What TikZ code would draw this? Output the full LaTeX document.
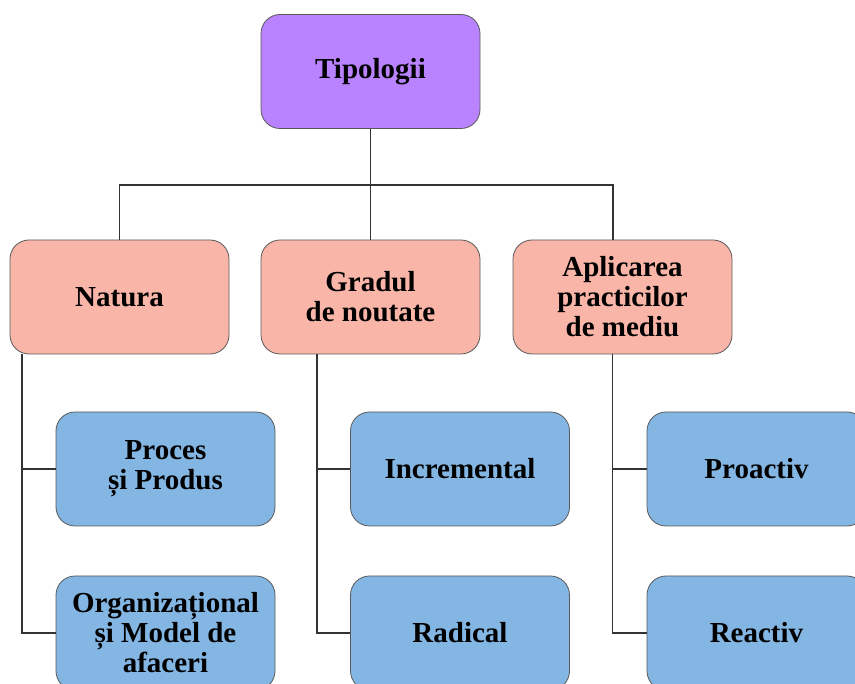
\documentclass[tikz,border=0pt]{standalone}
\usepackage{fontspec}
\setmainfont{Liberation Serif}

\definecolor{violet}{HTML}{B983FF}
\definecolor{somon}{HTML}{FAB5A9}
\definecolor{albastru}{HTML}{84B6E4}

\tikzstyle{block} = [rectangle, rounded corners=19pt, minimum width=219pt, minimum height=114pt, text centered, align=center, draw=black!65, line width=0.8pt, font=\fontsize{29}{30}\selectfont\bfseries]
\tikzstyle{root} = [block, fill=violet]
\tikzstyle{categ} = [block, fill=somon]
\tikzstyle{tip} = [block, fill=albastru]
\tikzstyle{link} = [line width=1.3pt, draw=black!80]

\begin{document}
\begin{tikzpicture}[x=1pt, y=-1pt]
\clip (0,0) rectangle (855,684);

\node (tipol) [root] at (370.5, 71.5) {Tipologii};

\node (natura) [categ] at (119.5, 297) {Natura};
\node (gradul) [categ] at (370.5, 297) {Gradul\\de noutate};
\node (aplic) [categ] at (622.5, 297) {Aplicarea\\practicilor\\de mediu};

\node (proces) [tip] at (165.5, 469) {Proces\\și Produs};
\node (organiz) [tip] at (165.5, 633) {Organizațional\\și Model de\\afaceri};
\node (increm) [tip] at (460, 469) {Incremental};
\node (radical) [tip] at (460, 633) {Radical};
\node (proact) [tip] at (756.5, 469) {Proactiv};
\node (react) [tip] at (756.5, 633) {Reactiv};

\coordinate (bus) at (370.5, 185);

\draw [link] (tipol) -- (gradul);
\draw [link] (natura.north) |- (bus) -| ([xshift=-9.5pt]aplic.north);

\draw [link] ([xshift=-97.5pt]natura.south) |- (proces.west);
\draw [link] ([xshift=-97.5pt]natura.south) |- (organiz.west);
\draw [link] ([xshift=-53.5pt]gradul.south) |- (increm.west);
\draw [link] ([xshift=-53.5pt]gradul.south) |- (radical.west);
\draw [link] ([xshift=-10pt]aplic.south) |- (proact.west);
\draw [link] ([xshift=-10pt]aplic.south) |- (react.west);
\end{tikzpicture}
\end{document}
